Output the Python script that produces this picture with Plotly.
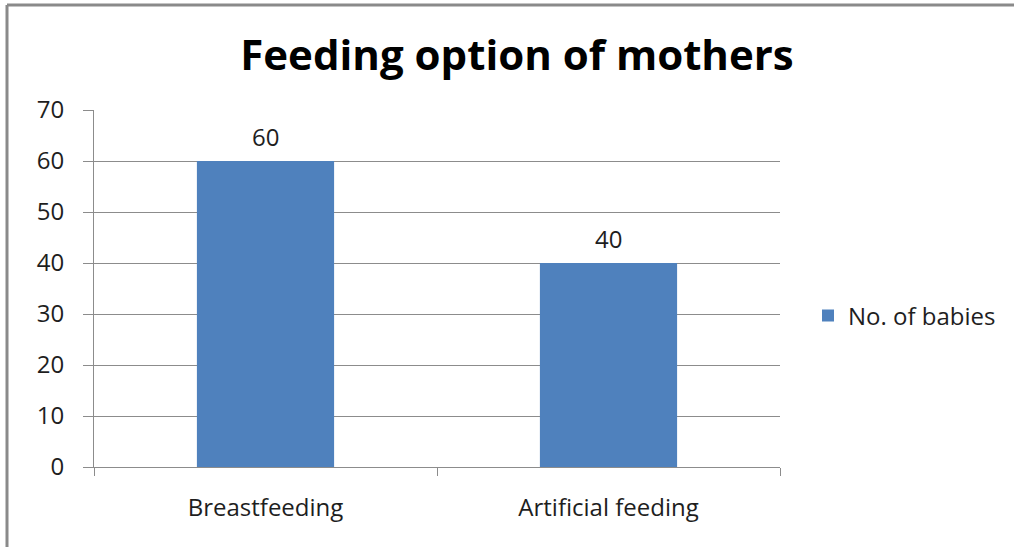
import plotly.graph_objects as go

categories = ["Breastfeeding", "Artificial feeding"]
babies = [60, 40]
series_name = "No. of babies"
title_text = "Feeding option of mothers"

W, H = 1014, 547
L, R, T, B = 94, 234, 110, 80
pw, ph = W - L - R, H - T - B

bar_color = "#4F81BD"
grid_color = "#8C8C8C"
text_color = "#1E1E1E"
font_family = "'Open Sans', sans-serif"

fig = go.Figure()
fig.add_trace(go.Bar(
    x=categories, y=babies, name=series_name,
    marker=dict(color=bar_color, line=dict(width=0)),
    width=0.4, showlegend=True,
))

# value labels above the bars
for c, v in zip(categories, babies):
    fig.add_annotation(x=c, y=v, text=str(v), showarrow=False,
                       yanchor="bottom", yshift=6,
                       font=dict(size=24, color=text_color, family=font_family))

# outer frame of the chart (left and top edges visible)
fx = lambda px: (px - L) / pw
fy = lambda py: (H - B - py) / ph
fig.add_shape(type="line", xref="paper", yref="paper",
              x0=fx(7), x1=fx(7), y0=fy(5), y1=fy(560),
              line=dict(color="#8A8A8A", width=3))
fig.add_shape(type="line", xref="paper", yref="paper",
              x0=fx(7), x1=fx(1030), y0=fy(5), y1=fy(5),
              line=dict(color="#8A8A8A", width=3))

fig.update_layout(
    width=W, height=H,
    margin=dict(l=L, r=R, t=T, b=B, pad=0),
    paper_bgcolor="white", plot_bgcolor="white",
    font=dict(family=font_family, color=text_color),
    title=dict(text="<b>" + title_text + "</b>", x=517 / W, xanchor="center",
               y=1 - 55 / H, yanchor="middle", xref="container", yref="container",
               font=dict(size=42, color="black", family=font_family)),
    bargap=0.6,
    legend=dict(x=fx(808), y=fy(316), xanchor="left", yanchor="middle",
                font=dict(size=24, color=text_color, family=font_family),
                bgcolor="rgba(0,0,0,0)", itemsizing="constant"),
    xaxis=dict(showgrid=False, showline=True, linecolor=grid_color, linewidth=1,
               ticks="outside", ticklen=8, tickcolor=grid_color, tickson="boundaries",
               tickfont=dict(size=24, color=text_color), ticklabelstandoff=19),
    yaxis=dict(range=[0, 70], tickvals=[0, 10, 20, 30, 40, 50, 60, 70],
               showgrid=True, gridcolor=grid_color, gridwidth=1,
               showline=True, linecolor=grid_color, linewidth=1,
               ticks="outside", ticklen=10, tickcolor=grid_color,
               tickfont=dict(size=24, color=text_color), ticklabelstandoff=14,
               zeroline=False),
)

fig.write_html("out.html")
